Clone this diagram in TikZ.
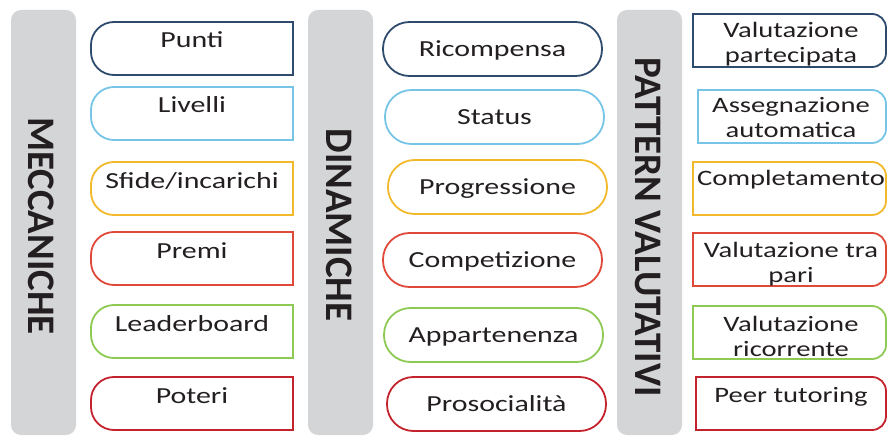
\documentclass[tikz,border=0pt]{standalone}
\usepackage{fontspec}
\setmainfont{Carlito}
\usepackage{xcolor}
\definecolor{mygray}{HTML}{D4D5D7}
\definecolor{mytext}{HTML}{231F20}
\definecolor{mynavy}{HTML}{2E4B6E}
\definecolor{mylightblue}{HTML}{77C5E6}
\definecolor{myyellow}{HTML}{F2B92B}
\definecolor{myred}{HTML}{E0493A}
\definecolor{mygreen}{HTML}{8DC953}
\definecolor{mydarkred}{HTML}{C4222C}

\tikzset{
  bar/.style={fill=mygray, rounded corners=10pt},
  barlabel/.style={mytext, font=\fontsize{39}{39}\selectfont\bfseries, rotate=-90, transform shape},
  boxline/.style={line width=1.8pt, line cap=rect},
  boxlabel/.style={mytext, font=\fontsize{23}{26}\selectfont, xscale=1.3, transform shape, anchor=base, inner sep=0pt, align=center},
}

\begin{document}
\begin{tikzpicture}[x=1pt, y=-1pt]

\useasboundingbox (0,0) rectangle (887,436);
\clip (0,0) rectangle (887,436);

% GRAY BARS
\fill[bar] (11,10) rectangle (76,435);
\fill[bar] (308,10) rectangle (373,435);
\fill[bar] (617,10) rectangle (682,435);
\node[barlabel] (meccaniche) at (41,226) {MECCANICHE};
\node[barlabel] (dinamiche) at (339,225) {DINAMICHE};
\node[barlabel] (pattern) at (648,227) {PATTERN VALUTATIVI};

% MECCANICHE
\begin{scope}
\foreach \t/\c/\s [count=\i] in {22/mynavy/Punti, 87/mylightblue/Livelli, 162/myyellow/{Sfide/incarichi}, 232/myred/Premi, 305/mygreen/Leaderboard, 377/mydarkred/Poteri} {
  \draw[boxline, \c, rounded corners=23pt] (293,\t) -- (91,\t) -- (91,\t+53) -- (293,\t+53);
  \draw[boxline, \c] (293,\t) -- (293,\t+53);
  \node[boxlabel] (mecc\i) at (192,\t+26) {\s};
}
\end{scope}

% DINAMICHE
\begin{scope}
\foreach \t/\l/\c/\s [count=\i] in {22/383/mynavy/Ricompensa, 90/385/mylightblue/Status, 160/388/myyellow/Progressione, 233/383/myred/Competizione, 308/384/mygreen/Appartenenza, 377/387/mydarkred/Prosocialità} {
  \draw[boxline, \c, rounded corners=26.5pt] (\l,\t) rectangle (\l+219,\t+54);
  \node[boxlabel] (dina\i) at (\l+109.5,\t+34.5) {\s};
}
\end{scope}

% PATTERN VALUTATIVI (b = baseline of the last line)
\begin{scope}
\foreach \t/\l/\b/\c/\s [count=\i] in {14/693/49/mynavy/{Valutazione\\partecipata}, 90/698/48/mylightblue/{Assegnazione\\automatica}, 162/693/23/myyellow/Completamento, 233/693/49/myred/{Valutazione tra\\pari}, 306/693/50/mygreen/{Valutazione\\ricorrente}, 377/696/25/mydarkred/{Peer tutoring}} {
  \draw[boxline, \c, rounded corners=14pt] (\l,\t) -- (886,\t) -- (886,\t+53) -- (\l,\t+53);
  \draw[boxline, \c] (\l,\t) -- (\l,\t+53);
  \node[boxlabel, font=\fontsize{22}{25}\selectfont] (patt\i) at (791,\t+\b) {\s};
}
\end{scope}

\end{tikzpicture}
\end{document}
